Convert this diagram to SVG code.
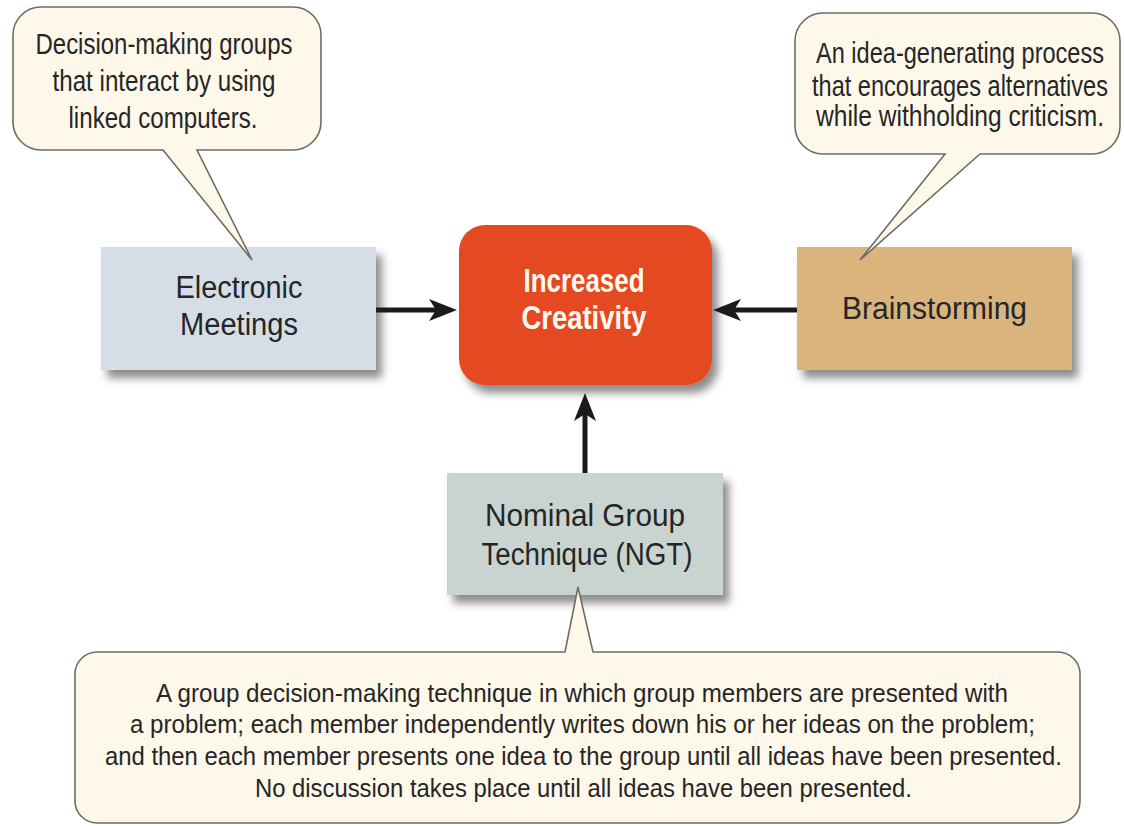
<svg xmlns="http://www.w3.org/2000/svg" width="1124" height="826" viewBox="0 0 1124 826">
<style>
.t{font-family:"Liberation Sans",Arial,sans-serif;fill:#262626;text-anchor:middle}
.lbl{font-size:31px}
.call{font-size:29px}
.small{font-size:25px}
.white{font-family:"Liberation Sans",Arial,sans-serif;font-weight:bold;font-size:34px;fill:#fffaf0;text-anchor:middle}
.bubble{fill:#fdf8e9;stroke:#6e6d62;stroke-width:1.6}
.conn{stroke:#1b1b1b;stroke-width:5;fill:none}
</style>
<defs>
<filter id="sh" x="-10%" y="-10%" width="130%" height="140%">
<feDropShadow dx="6" dy="8" stdDeviation="4" flood-color="#000" flood-opacity="0.45"/>
</filter>
<marker id="ah" viewBox="0 0 28 22" refX="14" refY="11" markerWidth="28" markerHeight="22" markerUnits="userSpaceOnUse" orient="auto">
<path d="M0,0 L28,11 L0,22 L7,11 Z" fill="#1b1b1b"/>
</marker>
</defs>
<rect width="1124" height="826" fill="#ffffff"/>

<g id="electronic-meetings">
<rect x="101" y="247" width="275" height="123" fill="#d5dde6" filter="url(#sh)"/>
<text class="t lbl" x="239" y="298" textLength="127" lengthAdjust="spacingAndGlyphs">Electronic</text>
<text class="t lbl" x="239" y="335" textLength="118" lengthAdjust="spacingAndGlyphs">Meetings</text>
</g>

<g id="increased-creativity">
<rect x="459" y="225" width="253" height="160" rx="26" fill="#e44a24" filter="url(#sh)"/>
<text class="white" x="584" y="292" textLength="121" lengthAdjust="spacingAndGlyphs">Increased</text>
<text class="white" x="584" y="329" textLength="125" lengthAdjust="spacingAndGlyphs">Creativity</text>
</g>

<g id="brainstorming">
<rect x="797" y="247" width="275" height="123" fill="#d9b47d" filter="url(#sh)"/>
<text class="t lbl" x="934.5" y="319" textLength="185" lengthAdjust="spacingAndGlyphs">Brainstorming</text>
</g>

<g id="ngt">
<rect x="447" y="473" width="276" height="122" fill="#c9d4d0" filter="url(#sh)"/>
<text class="t lbl" x="585" y="526" textLength="200" lengthAdjust="spacingAndGlyphs">Nominal Group</text>
<text class="t lbl" x="587" y="565" textLength="211" lengthAdjust="spacingAndGlyphs">Technique (NGT)</text>
</g>

<g id="connectors">
<line class="conn" x1="376" y1="310" x2="443" y2="310" marker-end="url(#ah)"/>
<line class="conn" x1="797" y1="310" x2="727" y2="310" marker-end="url(#ah)"/>
<line class="conn" x1="585" y1="473" x2="585" y2="407" marker-end="url(#ah)"/>
</g>

<g id="callout-electronic">
<path class="bubble" d="M41,7 H293 A28 28 0 0 1 321,35 V122 A28 28 0 0 1 293,150 H197 L252,260 L163,150 H41 A28 28 0 0 1 13,122 V35 A28 28 0 0 1 41,7 Z"/>
<text class="t call" x="164" y="54" textLength="257" lengthAdjust="spacingAndGlyphs">Decision-making groups</text>
<text class="t call" x="164" y="91" textLength="223" lengthAdjust="spacingAndGlyphs">that interact by using</text>
<text class="t call" x="163" y="128" textLength="189" lengthAdjust="spacingAndGlyphs">linked computers.</text>
</g>

<g id="callout-brainstorming">
<path class="bubble" d="M823,13 H1092 A28 28 0 0 1 1120,41 V126 A28 28 0 0 1 1092,154 H980 L860,260 L945,154 H823 A28 28 0 0 1 795,126 V41 A28 28 0 0 1 823,13 Z"/>
<g transform="translate(960,0) scale(0.8,1)">
<text class="t call" x="0" y="63" textLength="360" lengthAdjust="spacingAndGlyphs">An idea-generating process</text>
<text class="t call" x="0" y="96" textLength="370" lengthAdjust="spacingAndGlyphs">that encourages alternatives</text>
<text class="t call" x="0" y="126" textLength="360" lengthAdjust="spacingAndGlyphs">while withholding criticism.</text>
</g>
</g>

<g id="callout-ngt">
<path class="bubble" d="M97,652 H565 L578,587 L593,652 H1058 A22 22 0 0 1 1080,674 V801 A22 22 0 0 1 1058,823 H97 A22 22 0 0 1 75,801 V674 A22 22 0 0 1 97,652 Z"/>
<text class="t small" x="582" y="702" textLength="852" lengthAdjust="spacingAndGlyphs">A group decision-making technique in which group members are presented with</text>
<text class="t small" x="582.5" y="733" textLength="905" lengthAdjust="spacingAndGlyphs">a problem; each member independently writes down his or her ideas on the problem;</text>
<text class="t small" x="583.5" y="765" textLength="957" lengthAdjust="spacingAndGlyphs">and then each member presents one idea to the group until all ideas have been presented.</text>
<text class="t small" x="583.5" y="797" textLength="657" lengthAdjust="spacingAndGlyphs">No discussion takes place until all ideas have been presented.</text>
</g>
</svg>
